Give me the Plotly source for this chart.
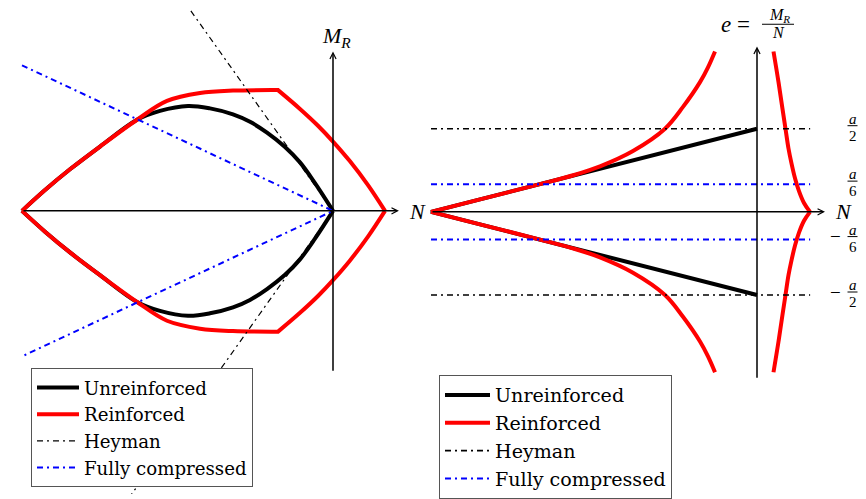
import plotly.graph_objects as go

W, H = 866, 499

# ---------------------------------------------------------------
# Left panel: M_R - N interaction domain
# N in units of the crushing load N_c (compression negative),
# M_R in units of N_c * a.  Upper branches; lower ones are symmetric.
# ---------------------------------------------------------------
unr_n = [-1.0, -0.9260, -0.8457, -0.7492, -0.6302, -0.5563, -0.4662, -0.3955,
         -0.3215, -0.2669, -0.2122, -0.1543, -0.1061, -0.0579, 0.0]
unr_m = [0.0, 0.0238, 0.0475, 0.0735, 0.1041, 0.1143, 0.1199, 0.1171,
         0.1103, 0.1018, 0.0894, 0.0730, 0.0554, 0.0317, 0.0]

# the corner where the reinforcement yields is listed twice to keep it sharp
rei_n = [-1.0, -0.9260, -0.8457, -0.7492, -0.6302, -0.5338, -0.4277, -0.3215,
         -0.1768, -0.1768, -0.1061, -0.0482, 0.0, 0.0547, 0.1125, 0.1672]
rei_m = [0.0, 0.0238, 0.0475, 0.0735, 0.1041, 0.1256, 0.1346, 0.1374,
         0.1380, 0.1380, 0.1165, 0.0973, 0.0792, 0.0566, 0.0294, 0.0]

hey_n = [-0.457, 0.0, -0.65]
hey_m = [0.2285, 0.0, -0.325]

fc_n = [-1.0, 0.0, -1.0]
fc_m = [0.1663, 0.0, -0.1663]

# ---------------------------------------------------------------
# Right panel: eccentricity e = M_R / N (units of a) against N
# ---------------------------------------------------------------
e_unr_n = [0.0, -1.0, 0.0]
e_unr_e = [0.5, 0.0, -0.5]

# compression branch of the reinforced section (upper half)
e_rc_n = [-1.0, -0.8497, -0.6656, -0.5583, -0.4816, -0.3804, -0.2822, -0.2270,
          -0.1748, -0.1503, -0.1288]
e_rc_e = [0.0, 0.0750, 0.1667, 0.2232, 0.2738, 0.3661, 0.5000, 0.6310,
          0.7798, 0.8690, 0.9643]
# tension branch of the reinforced section (upper half)
e_rt_n = [0.1626, 0.1442, 0.1288, 0.1166, 0.1058, 0.0966, 0.0874, 0.0782, 0.0660, 0.0506]
e_rt_e = [0.0, 0.0536, 0.1250, 0.2024, 0.2917, 0.3810, 0.5000, 0.6190, 0.7798, 0.9643]

e_hey = 0.5          # a/2
e_fc = 0.1667        # a/6
e_line_n = [-1.0, 0.163]

# axis extents (data units)
left_xr = [-1.07074, 0.29582]
left_yr = [-0.32353, 0.24095]
right_xr = [-1.01840, 0.33436]
right_yr = [-1.69643, 1.27381]

BLACK, RED, BLUE = "#000000", "#ff0000", "#0000ff"
DASHDOT = "6px,4px,2px,4px"
SERIF = "Liberation Serif"
LEG_FONT = "DejaVu Serif"


def mirrored(xs, ys):
    """upper branch and its mirror image below the N axis, as two open pieces"""
    return xs + [None] + xs, ys + [None] + [-v for v in ys]


def px(x, y):
    return x / W, 1 - y / H


fig = go.Figure()
SPL = dict(shape="spline", smoothing=1.0)

# ---- left panel traces
lx, ly = mirrored(unr_n, unr_m)
fig.add_trace(go.Scatter(x=lx, y=ly, mode="lines", name="Unreinforced",
                         line=dict(color=BLACK, width=4, **SPL), xaxis="x", yaxis="y",
                         legend="legend", legendrank=1))
lx, ly = mirrored(rei_n, rei_m)
fig.add_trace(go.Scatter(x=lx, y=ly, mode="lines", name="Reinforced",
                         line=dict(color=RED, width=4, **SPL), xaxis="x", yaxis="y",
                         legend="legend", legendrank=2))
fig.add_trace(go.Scatter(x=hey_n, y=hey_m, mode="lines", name="Heyman",
                         line=dict(color=BLACK, width=1.2, dash=DASHDOT), xaxis="x", yaxis="y",
                         legend="legend", legendrank=3))
fig.add_trace(go.Scatter(x=fc_n, y=fc_m, mode="lines", name="Fully compressed",
                         line=dict(color=BLUE, width=2, dash=DASHDOT), xaxis="x", yaxis="y",
                         legend="legend", legendrank=4))

# ---- right panel traces
fig.add_trace(go.Scatter(x=e_unr_n, y=e_unr_e, mode="lines", name="Unreinforced",
                         line=dict(color=BLACK, width=4), xaxis="x2", yaxis="y2",
                         legend="legend2", legendrank=1))
cx, cy = mirrored(e_rc_n, e_rc_e)
tx, ty = mirrored(e_rt_n, e_rt_e)
fig.add_trace(go.Scatter(x=cx + [None] + tx, y=cy + [None] + ty, mode="lines", name="Reinforced",
                         line=dict(color=RED, width=4, **SPL), xaxis="x2", yaxis="y2",
                         legend="legend2", legendrank=2))
fig.add_trace(go.Scatter(x=e_line_n + [None] + e_line_n,
                         y=[e_hey, e_hey, None, -e_hey, -e_hey], mode="lines", name="Heyman",
                         line=dict(color=BLACK, width=1.6, dash=DASHDOT), xaxis="x2", yaxis="y2",
                         legend="legend2", legendrank=3))
fig.add_trace(go.Scatter(x=e_line_n + [None] + e_line_n,
                         y=[e_fc, e_fc, None, -e_fc, -e_fc], mode="lines", name="Fully compressed",
                         line=dict(color=BLUE, width=2, dash=DASHDOT), xaxis="x2", yaxis="y2",
                         legend="legend2", legendrank=4))

annotations = []
shapes = []


def arrow(xref, yref, x0, y0, x1, y1):
    annotations.append(dict(x=x1, y=y1, ax=x0, ay=y0, xref=xref, yref=yref,
                            axref=xref, ayref=yref, text="", showarrow=True,
                            arrowhead=5, arrowsize=0.8, arrowwidth=1.5,
                            arrowcolor=BLACK, standoff=0, startstandoff=0))


# coordinate axes with arrow tips
arrow("x", "y", -1.0, 0.0, 0.212, 0.0)
arrow("x", "y", 0.0, -0.1844, 0.0, 0.1821)
arrow("x2", "y2", -1.0, 0.0, 0.2086, 0.0)
arrow("x2", "y2", 0.0, -1.006, 0.0, 0.994)


def label(text, x, y, size=22):
    xp, yp = px(x, y)
    annotations.append(dict(text=text, x=xp, y=yp, xref="paper", yref="paper",
                            showarrow=False, xanchor="center", yanchor="middle",
                            font=dict(family=SERIF, size=size, color=BLACK)))


label("<i>M</i><sub><i>R</i></sub>", 336, 37)
label("<i>N</i>", 417, 214)
label("<i>N</i>", 843, 214)

# e = M_R / N as a stacked fraction
label("<i>e</i> =", 735, 25, size=23)
label("<i>M</i><sub><i>R</i></sub>", 779, 16, size=16)
label("<i>N</i>", 778, 33, size=16)
x0p, _ = px(762, 0)
x1p, _ = px(794, 0)
shapes.append(dict(type="line", xref="paper", yref="paper", x0=x0p, x1=x1p,
                   y0=1 - 24.5 / H, y1=1 - 24.5 / H, line=dict(color=BLACK, width=1)))

# a/2, a/6, -a/6, -a/2 fractions next to the horizontal lines
for val, den in [(e_hey, "2"), (e_fc, "6"), (-e_fc, "6"), (-e_hey, "2")]:
    xc = 852.5 / W
    annotations.append(dict(text="<i>a</i>", x=xc, y=val, xref="paper", yref="y2",
                            xanchor="center", yanchor="middle",
                            yshift=10, showarrow=False,
                            font=dict(family=SERIF, size=15, color=BLACK)))
    annotations.append(dict(text=den, x=xc, y=val, xref="paper", yref="y2",
                            xanchor="center", yanchor="middle",
                            yshift=-7, showarrow=False,
                            font=dict(family=SERIF, size=15, color=BLACK)))
    shapes.append(dict(type="line", xref="paper", yref="y2", ysizemode="pixel", yanchor=val,
                       x0=847.5 / W, x1=857.5 / W, y0=3, y1=3,
                       line=dict(color=BLACK, width=1)))
    if val < 0:
        annotations.append(dict(text="\u2212", x=835 / W, y=val, xref="paper", yref="y2",
                                xanchor="center", yanchor="middle",
                                yshift=3, showarrow=False,
                                font=dict(family=SERIF, size=19, color=BLACK)))

ax_common = dict(visible=False, fixedrange=True, showgrid=False, zeroline=False)

lx0, ly0 = px(31, 372)
rx0, ry0 = px(439, 379)
fig.update_layout(
    width=W, height=H,
    margin=dict(l=0, r=0, t=0, b=0),
    paper_bgcolor="white", plot_bgcolor="rgba(0,0,0,0)",
    xaxis=dict(domain=[0, 425 / W], range=left_xr, **ax_common),
    yaxis=dict(domain=[0, 1], range=left_yr, **ax_common),
    xaxis2=dict(domain=[425 / W, 1], range=right_xr, anchor="y2", **ax_common),
    yaxis2=dict(domain=[0, 1], range=right_yr, anchor="x2", **ax_common),
    legend=dict(x=lx0, y=ly0, xanchor="left", yanchor="top",
                bgcolor="white", bordercolor="#555555", borderwidth=1,
                itemwidth=42,
                font=dict(family=LEG_FONT, size=18.2, color=BLACK),
                traceorder="normal"),
    legend2=dict(x=rx0, y=ry0, xanchor="left", yanchor="top",
                 bgcolor="white", bordercolor="#555555", borderwidth=1,
                 itemwidth=45,
                 font=dict(family=LEG_FONT, size=19.1, color=BLACK),
                 traceorder="normal"),
    annotations=annotations,
    shapes=shapes,
    showlegend=True,
)

fig.write_html("out.html")
